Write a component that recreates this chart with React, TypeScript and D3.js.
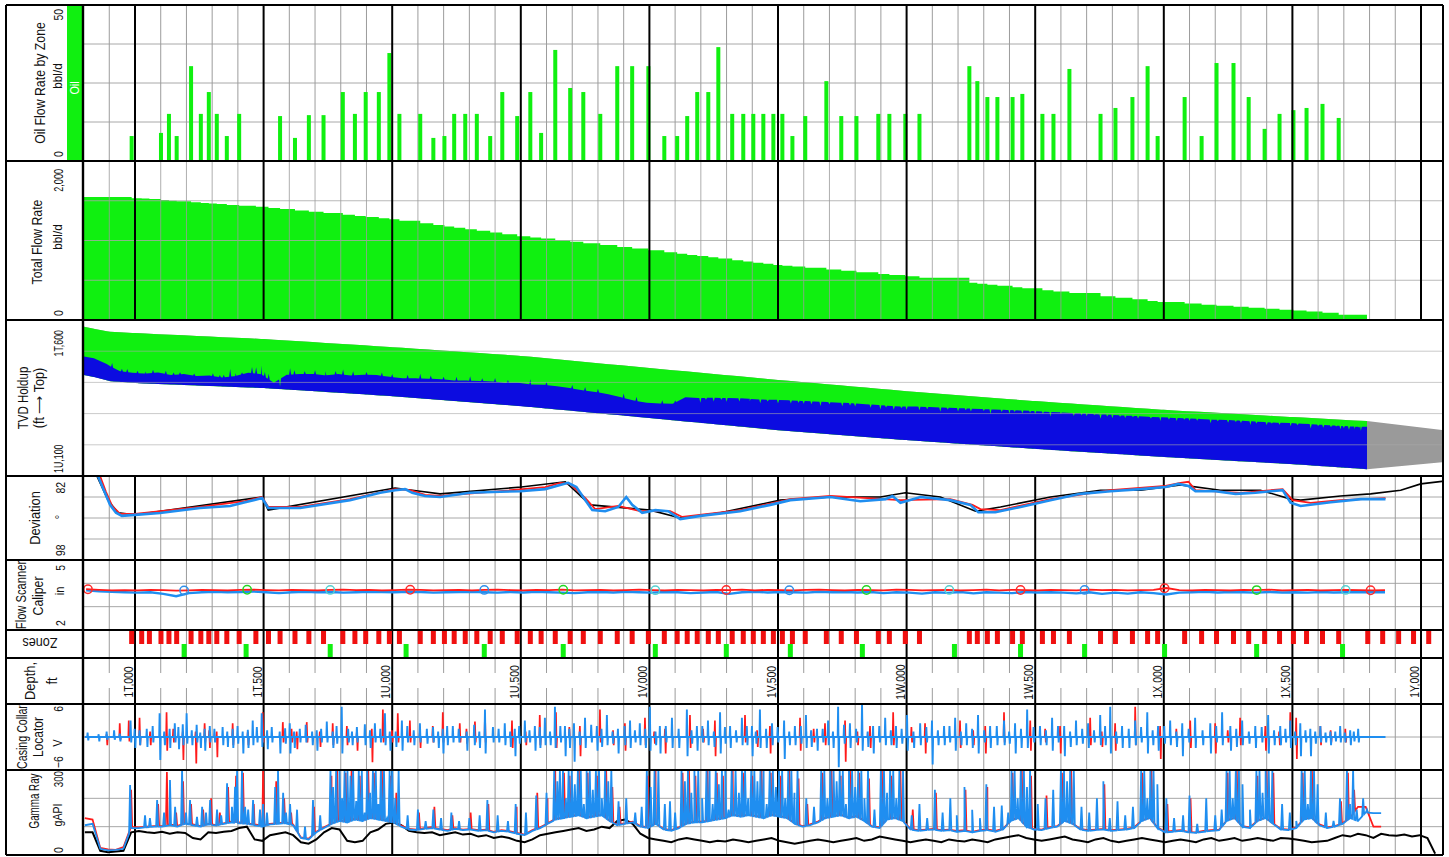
import React from "react";
import * as d3 from "d3";

// ---------------- Depth axis ----------------
const depthTickValues = [0, 500, 1000, 1500, 2000, 2500, 3000, 3500, 4000, 4500, 5000];
const depthTickLabels = ["1T,000", "1T,500", "1U,000", "1U,500", "1V,000", "1V,500", "1W,000", "1W,500", "1X,000", "1X,500", "1Y,000"];

// ---------------- Zones ----------------
const zoneDepths = [-13, 26, 56, 101, 132, 162, 218, 256, 287, 318, 357, 405, 470, 519, 564, 622, 676, 733, 808, 855,
  897, 948, 989, 1028, 1109, 1160, 1203, 1241, 1284, 1329, 1381, 1428, 1486, 1537, 1579, 1634, 1692, 1743, 1809, 1875,
  1933, 1996, 2058, 2108, 2147, 2186, 2229, 2268, 2322, 2365, 2404, 2443, 2482, 2517, 2556, 2606, 2688, 2746, 2805, 2890,
  2933, 2995, 3050, 3244, 3275, 3314, 3353, 3412, 3450, 3528, 3571, 3633, 3754, 3812, 3878, 3937, 3976, 4081, 4147, 4205,
  4271, 4330, 4392, 4450, 4504, 4555, 4617, 4680, 4793, 4851, 4913, 4971, 5030];
const zoneOilRates = [8, 0, 0, 9, 15.1, 8, 30.4, 15.1, 22.1, 15.1, 8, 15.1, 0, 0, 14.4, 7.4, 14.7, 14.7, 22.1, 15.1,
  22.1, 22.1, 34.6, 15.1, 15.1, 7.4, 8, 15.1, 15.1, 15.1, 8, 22.1, 14.4, 22.1, 9, 35.6, 23.4, 22.1, 15.1, 30.4,
  30.4, 30.4, 8, 8, 14.4, 22.1, 22.1, 36.5, 15.1, 15.1, 15.1, 15.1, 15.1, 15.1, 8, 14.4, 25.6, 14.4, 14.4, 15.1,
  15.1, 15.1, 15.1, 30.4, 25.6, 20.5, 20.5, 20.5, 21.5, 15.1, 15.1, 29.5, 15.1, 17, 20.5, 30.4, 8, 20.5, 8, 31.4,
  31.4, 20.5, 10.3, 15.1, 16.3, 17, 18.3, 13.8, 0, 0, 0, 0, 0];
const zoneTotalRates = [1533, 1528, 1521, 1509, 1501, 1494, 1481, 1472, 1465, 1458,
  1448, 1437, 1423, 1410, 1396, 1378, 1362, 1345, 1323, 1309,
  1296, 1280, 1267, 1250, 1216, 1194, 1176, 1160, 1141, 1122,
  1100, 1080, 1055, 1039, 1024, 1004, 984, 966, 943, 919,
  899, 876, 852, 833, 818, 804, 788, 773, 752, 736,
  721, 707, 692, 682, 672, 658, 635, 619, 602, 579,
  567, 551, 530, 467, 457, 444, 431, 412, 400, 374,
  360, 340, 300, 281, 260, 240, 227, 206, 191, 179,
  166, 154, 142, 130, 120, 107, 90, 65];
const flowTopRate = 1547;
const flowStartDepth = -210;
const flowEndDepth = 4790;

const stationDepths = [191, 432, 759, 1054, 1358, 1665, 2023, 2299, 2548, 2828, 3186, 3443, 3692, 4003, 4361, 4695];
const calMarkerDepths = [-183, 191, 436, 759, 1070, 1358, 1665, 2023, 2299, 2544, 2844, 3166, 3443, 3692, 4003, 4361, 4707, 4804];
const calMarkerPass = [0, 1, 2, 3, 0, 1, 2, 3, 0, 1, 2, 3, 0, 1, 0, 2, 3, 0];

// ---------------- TVD / Holdup ----------------
const tvdStations = [-210, -156, -97, 0, 500, 1000, 1500, 2000, 2500, 3000, 3500, 4000, 4500, 4790, 5090];
const tvdTop = [620, 629, 638, 642, 661, 687, 715, 754, 792, 828, 860, 888, 911, 924, 953];
const tvdBottom = [774, 783, 796, 802, 818, 844, 876, 914, 953, 985, 1013, 1039, 1062, 1078, 1055];
const holdupStart = -210;
const holdupStep = 50;
const waterHoldup = [0.38, 0.39, 0.33, 0.22, 0.2, 0.2, 0.23, 0.19, 0.22, 0.19,
  0.21, 0.18, 0.22, 0.3, 0.28, 0.12, 0.3, 0.33, 0.35, 0.34,
  0.38, 0.37, 0.4, 0.41, 0.39, 0.38, 0.4, 0.41, 0.42, 0.41,
  0.43, 0.44, 0.45, 0.44, 0.46, 0.45, 0.47, 0.46, 0.45, 0.43,
  0.42, 0.4, 0.36, 0.32, 0.3, 0.31, 0.33, 0.48, 0.49, 0.52,
  0.54, 0.56, 0.57, 0.58, 0.6, 0.61, 0.62, 0.63, 0.64, 0.65,
  0.66, 0.66, 0.67, 0.67, 0.68, 0.7, 0.71, 0.72, 0.73, 0.74,
  0.75, 0.76, 0.77, 0.78, 0.79, 0.79, 0.8, 0.8, 0.81, 0.81,
  0.82, 0.82, 0.83, 0.83, 0.84, 0.84, 0.85, 0.85, 0.85, 0.86,
  0.86, 0.86, 0.86, 0.86, 0.87, 0.87, 0.87, 0.87, 0.87, 0.87, 0.88];
const holdupSpikes = [[-89, 0.37], [-51, 0.27], [-30, 0.27], [10, 0.25], [40, 0.24], [70, 0.28], [120, 0.27], [150, 0.24],
  [175, 0.25], [230, 0.24], [303, 0.26], [330, 0.23], [345, 0.24], [370, 0.36], [390, 0.28], [416, 0.3], [455, 0.42],
  [471, 0.42], [490, 0.46], [505, 0.33], [520, 0.3], [564, 0.05], [603, 0.44], [620, 0.4], [660, 0.4], [700, 0.43],
  [740, 0.42], [780, 0.44], [809, 0.48], [848, 0.46], [900, 0.46], [960, 0.47], [1000, 0.45], [1060, 0.46],
  [1109, 0.5], [1150, 0.48], [1200, 0.47], [1250, 0.49], [1303, 0.52], [1350, 0.5], [1400, 0.52], [1450, 0.5],
  [1537, 0.55], [1600, 0.53], [1700, 0.52], [1750, 0.5], [1800, 0.49], [1900, 0.44], [1950, 0.4], [2050, 0.38],
  [2100, 0.4], [2198, 0.4], [2220, 0.47], [2250, 0.45], [2280, 0.5], [2300, 0.47], [2350, 0.5], [2390, 0.52],
  [2431, 0.5], [2460, 0.55], [2500, 0.53], [2550, 0.55], [2580, 0.58], [2600, 0.57], [2630, 0.57], [2665, 0.55],
  [2700, 0.6], [2750, 0.58], [2780, 0.61], [2800, 0.6], [2860, 0.6], [2898, 0.58], [2920, 0.63], [2950, 0.6],
  [2980, 0.64], [3000, 0.62], [3050, 0.63], [3080, 0.66], [3131, 0.63], [3160, 0.69], [3200, 0.66], [3230, 0.7],
  [3250, 0.68], [3300, 0.71], [3326, 0.66], [3370, 0.72], [3400, 0.7], [3420, 0.74], [3450, 0.72], [3480, 0.75],
  [3500, 0.73], [3530, 0.74], [3559, 0.7], [3600, 0.77], [3650, 0.74], [3680, 0.77], [3700, 0.76], [3730, 0.79],
  [3754, 0.72], [3780, 0.78], [3800, 0.75], [3830, 0.79], [3850, 0.77], [3880, 0.8], [3900, 0.78], [3950, 0.8],
  [3987, 0.76], [4020, 0.8], [4050, 0.78], [4080, 0.82], [4100, 0.8], [4130, 0.81], [4182, 0.77], [4210, 0.82],
  [4250, 0.8], [4280, 0.83], [4300, 0.81], [4337, 0.78], [4360, 0.82], [4400, 0.8], [4420, 0.84], [4450, 0.82],
  [4493, 0.8], [4520, 0.83], [4571, 0.78], [4600, 0.84], [4620, 0.81], [4650, 0.83], [4670, 0.85], [4687, 0.8],
  [4700, 0.83], [4720, 0.8], [4740, 0.82], [4760, 0.85], [4766, 0.79]];

// ---------------- Deviation ----------------
const devSurvey = [[-170, 78], [-148, 82.0], [-105, 86.6], [-66, 89.0], [0, 89.4], [494, 86.0], [518, 88.5], [1011, 84.3], [1109, 84.9],
  [1186, 85.4], [1502, 84.1], [1673, 83.1], [1770, 87.5], [2003, 88.5], [2120, 90.0], [2276, 89.0], [2509, 86.6],
  [2704, 86.0], [2898, 86.0], [2995, 85.2], [3131, 86.0], [3268, 88.7], [3365, 87.9], [3559, 86.0], [3754, 84.7],
  [3910, 84.7], [4065, 83.7], [4220, 84.7], [4376, 84.7], [4493, 86.4], [4532, 86.6], [4687, 85.8], [4804, 85.4],
  [4921, 84.7], [4999, 83.5], [5086, 83.0]];
const devBlue = [[-170, 78], [-144, 82.0], [-121, 84.7], [-97, 87.5], [-74, 89.0], [-51, 89.6], [0, 89.4], [97, 89.05], [253, 88.1],
  [370, 87.7], [428, 87.0], [494, 86.2], [518, 88.1], [642, 88.1], [836, 86.6], [953, 85.2], [1011, 84.7], [1050, 84.5],
  [1078, 85.2], [1128, 85.8], [1186, 86.0], [1303, 85.2], [1420, 85.0], [1498, 84.9], [1595, 84.5], [1653, 83.7],
  [1684, 83.3], [1716, 84.1], [1751, 86.6], [1778, 88.5], [1828, 88.7], [1879, 87.9], [1910, 86.0], [1933, 87.5],
  [1972, 89.0], [2023, 88.5], [2073, 88.7], [2120, 90.2], [2198, 89.6], [2353, 88.7], [2470, 87.5], [2548, 86.6],
  [2704, 86.0], [2820, 86.8], [2918, 86.4], [2945, 85.8], [2976, 87.1], [3054, 86.0], [3170, 86.6], [3248, 87.5],
  [3279, 88.9], [3345, 88.9], [3443, 87.9], [3559, 86.6], [3676, 85.4], [3793, 84.9], [3910, 84.5], [4007, 84.1],
  [4057, 83.5], [4096, 83.9], [4123, 84.9], [4201, 84.9], [4279, 85.4], [4357, 85.2], [4415, 84.9], [4462, 84.7],
  [4493, 87.1], [4532, 87.7], [4649, 87.0], [4766, 86.4], [4862, 86.4]];
const devRed = [[-160, 78], [-136, 82.0], [-113, 85.0], [-89, 87.7], [-58, 89.2], [0, 89.2], [253, 87.9], [428, 86.8], [494, 86.0],
  [518, 87.9], [642, 87.9], [836, 86.4], [1011, 84.5], [1070, 84.7], [1128, 85.6], [1186, 85.8], [1420, 84.9],
  [1595, 84.1], [1653, 83.3], [1692, 83.5], [1751, 86.2], [1789, 88.3], [1879, 87.7], [1964, 88.7], [2081, 88.7],
  [2128, 89.8], [2353, 88.5], [2548, 86.4], [2704, 85.8], [2976, 86.6], [3170, 86.4], [3256, 87.5], [3287, 88.3],
  [3365, 88.5], [3559, 86.4], [3793, 84.7], [4007, 83.9], [4065, 83.3], [4096, 83.1], [4123, 84.7], [4298, 85.2],
  [4462, 84.5], [4501, 86.6], [4571, 87.1], [4687, 86.6], [4862, 86.2]];

// ---------------- Caliper (in), sampled every 50 ft from -190 ----------------
const caliperStart = -190;
const caliperStep = 50;
const caliperBlue = [3.70, 3.66, 3.64, 3.62, 3.60, 3.62, 3.55, 3.45, 3.58, 3.62,
  3.64, 3.62, 3.63, 3.65, 3.62, 3.58, 3.62, 3.64, 3.62, 3.63,
  3.60, 3.62, 3.64, 3.63, 3.62, 3.64, 3.63, 3.60, 3.62, 3.63,
  3.64, 3.62, 3.60, 3.63, 3.61, 3.64, 3.62, 3.60, 3.58, 3.62,
  3.63, 3.61, 3.64, 3.62, 3.60, 3.63, 3.62, 3.58, 3.61, 3.63,
  3.55, 3.62, 3.64, 3.61, 3.63, 3.62, 3.60, 3.64, 3.62, 3.63,
  3.61, 3.63, 3.58, 3.62, 3.60, 3.56, 3.62, 3.59, 3.63, 3.57,
  3.62, 3.60, 3.58, 3.63, 3.61, 3.62, 3.60, 3.57, 3.62, 3.55,
  3.60, 3.56, 3.62, 3.58, 3.52, 3.60, 3.62, 3.64, 3.61, 3.63,
  3.62, 3.60, 3.63, 3.61, 3.62, 3.60, 3.63, 3.61, 3.62, 3.63, 3.62, 3.62];
const caliperRed = [3.75, 3.72, 3.70, 3.71, 3.70, 3.72, 3.71, 3.69, 3.70, 3.72,
  3.71, 3.70, 3.72, 3.73, 3.71, 3.70, 3.72, 3.71, 3.70, 3.72,
  3.73, 3.71, 3.72, 3.70, 3.71, 3.73, 3.72, 3.70, 3.71, 3.72,
  3.70, 3.72, 3.73, 3.71, 3.70, 3.72, 3.71, 3.73, 3.70, 3.71,
  3.72, 3.70, 3.71, 3.73, 3.71, 3.70, 3.72, 3.71, 3.70, 3.72,
  3.71, 3.73, 3.70, 3.72, 3.71, 3.70, 3.72, 3.73, 3.71, 3.70,
  3.72, 3.71, 3.70, 3.73, 3.72, 3.70, 3.71, 3.72, 3.70, 3.71,
  3.73, 3.70, 3.72, 3.71, 3.70, 3.72, 3.71, 3.70, 3.73, 3.71,
  3.72, 3.70, 3.71, 3.72, 3.80, 3.71, 3.70, 3.72, 3.71, 3.70,
  3.72, 3.71, 3.73, 3.70, 3.71, 3.72, 3.70, 3.71, 3.72, 3.71, 3.70, 3.71];

// ---------------- Casing collar locator: [depth, up V, down V] ----------------
const cclBlueStart = -195;
const cclBlueEnd = 4862;
const cclBlue = [[-183, 0.8, -0.6], [-109, 1.0, -0.5], [-58, 0.6, -0.8], [-16, 3.0, -1.0], [19, 1.2, -1.5], [47, 1.5, -1.8],
  [97, 4.3, -4.2], [136, 1.5, -2.0], [156, 2.5, -1.0], [187, 2.3, -1.5], [202, 4.3, -1.2], [241, 2.2, -1.0],
  [272, 1.5, -2.5], [292, 2.0, -1.0], [342, 1.8, -1.5], [381, 1.5, -2.0], [420, 1.0, -3.0], [459, 3.0, -1.5],
  [494, 4.3, -1.8], [533, 1.8, -1.0], [564, 1.0, -3.0], [603, 2.5, -3.0], [642, 1.5, -1.0], [708, 1.2, -2.5],
  [747, 2.8, -1.0], [805, 5.5, -3.0], [864, 1.8, -1.0], [895, 2.3, -1.5], [934, 2.5, -1.0], [973, 4.3, -1.5],
  [992, 1.0, -2.5], [1039, 3.0, -2.5], [1109, 2.5, -1.0], [1136, 1.5, -1.2], [1198, 1.5, -3.0], [1237, 2.0, -1.0],
  [1291, 1.0, -2.5], [1362, 5.0, -3.0], [1393, 1.8, -1.0], [1439, 2.5, -1.5], [1478, 1.5, -3.5], [1517, 3.0, -1.0],
  [1556, 2.0, -2.5], [1595, 3.5, -1.5], [1634, 5.5, -2.0], [1673, 2.0, -3.5], [1708, 2.5, -4.5], [1751, 3.5, -2.0],
  [1797, 2.0, -2.5], [1836, 4.0, -1.5], [1879, 1.5, -3.0], [1926, 3.0, -2.0], [1964, 2.5, -1.5], [2003, 5.5, -2.5],
  [2042, 2.0, -3.0], [2089, 3.5, -2.0], [2147, 5.0, -3.5], [2186, 2.0, -2.5], [2229, 3.0, -1.5], [2276, 4.5, -3.0],
  [2315, 2.0, -2.0], [2361, 3.5, -1.5], [2400, 2.0, -3.5], [2431, 5.0, -2.0], [2478, 2.5, -1.5], [2525, 3.0, -4.0],
  [2567, 2.0, -1.5], [2610, 4.0, -2.0], [2653, 1.5, -2.5], [2696, 3.0, -1.5], [2735, 5.5, -5.5], [2781, 2.5, -2.0],
  [2828, 6.0, -2.5], [2871, 2.0, -3.0], [2918, 3.5, -1.5], [2960, 2.0, -2.0], [3003, 4.0, -2.5], [3054, 2.5, -1.5],
  [3100, 3.0, -5.0], [3147, 2.0, -1.5], [3190, 3.5, -2.5], [3233, 2.5, -1.5], [3279, 4.0, -3.0], [3326, 2.0, -2.0],
  [3380, 3.0, -1.5], [3423, 2.5, -3.0], [3470, 5.0, -2.0], [3520, 2.0, -1.5], [3567, 3.5, -2.5], [3614, 2.0, -3.5],
  [3660, 3.0, -1.5], [3707, 2.5, -2.0], [3754, 4.0, -1.5], [3793, 5.5, -3.0], [3839, 2.0, -2.0], [3890, 3.0, -1.5],
  [3937, 4.5, -3.0], [3979, 2.0, -2.5], [4026, 3.0, -1.5], [4073, 2.5, -3.5], [4123, 3.5, -2.0], [4182, 2.5, -3.0],
  [4228, 4.5, -1.5], [4260, 2.0, -2.5], [4306, 3.0, -1.5], [4357, 2.0, -2.0], [4407, 4.0, -3.0], [4454, 2.0, -1.5],
  [4493, 3.0, -2.0], [4532, 2.5, -3.5], [4571, 1.5, -3.5], [4610, 2.0, -1.0], [4649, 1.0, -1.5], [4687, 2.0, -1.0],
  [4726, 1.2, -1.5], [4757, 1.5, -1.0]];
const cclBlueMinor = [[-140, 0.5, -0.8], [-80, 1.2, -0.5], [0, 1.5, -2.0], [70, 2.0, -1.0], [115, 1.0, -1.5], [170, 1.8, -2.2],
  [222, 1.2, -1.5], [255, 0.8, -2.0], [310, 1.5, -1.0], [360, 1.0, -1.8], [400, 2.0, -1.2], [440, 1.3, -2.0],
  [475, 1.8, -1.0], [515, 1.2, -2.2], [585, 1.6, -1.2], [620, 1.0, -2.0], [665, 2.2, -1.0], [690, 1.0, -1.5],
  [725, 1.5, -1.0], [770, 1.0, -2.0], [785, 2.0, -1.2], [830, 1.5, -1.0], [845, 1.0, -1.5], [915, 1.2, -2.0],
  [955, 1.5, -1.0], [1015, 1.0, -1.8], [1060, 2.0, -1.0], [1085, 1.2, -1.5], [1160, 1.8, -1.0], [1180, 1.0, -2.0],
  [1215, 2.0, -1.5], [1260, 1.5, -1.0], [1320, 2.2, -1.5], [1340, 1.0, -2.0], [1415, 1.5, -1.0], [1460, 1.0, -1.8],
  [1495, 2.0, -1.2], [1535, 1.2, -1.0], [1575, 1.8, -2.0], [1615, 1.0, -1.5], [1655, 2.0, -1.0], [1690, 1.5, -2.0],
  [1730, 1.0, -1.5], [1775, 2.2, -1.0], [1815, 1.5, -1.8], [1858, 1.0, -1.2], [1905, 2.0, -1.5], [1945, 1.2, -1.0],
  [1985, 1.5, -2.0], [2025, 1.0, -1.5], [2065, 2.0, -1.0], [2115, 1.5, -2.0], [2165, 1.2, -1.2], [2207, 2.0, -1.0],
  [2252, 1.0, -1.8], [2295, 1.8, -1.2], [2338, 1.2, -1.0], [2380, 2.0, -1.5], [2415, 1.0, -1.2], [2455, 1.5, -2.0],
  [2500, 1.8, -1.0], [2545, 1.0, -1.5], [2590, 2.0, -1.2], [2630, 1.2, -1.8], [2675, 1.5, -1.0], [2715, 1.0, -2.0],
  [2758, 2.2, -1.2], [2805, 1.5, -1.0], [2850, 1.0, -1.8], [2895, 2.0, -1.0], [2940, 1.2, -1.5], [2982, 1.5, -1.2],
  [3028, 1.0, -2.0], [3078, 1.8, -1.0], [3123, 1.2, -1.5], [3168, 2.0, -1.0], [3212, 1.0, -1.5], [3256, 1.5, -2.0],
  [3303, 1.2, -1.0], [3352, 2.0, -1.5], [3400, 1.0, -1.2], [3446, 1.5, -2.0], [3495, 1.8, -1.0], [3543, 1.2, -1.5],
  [3590, 2.0, -1.0], [3637, 1.0, -1.8], [3684, 1.5, -1.2], [3730, 1.2, -1.0], [3773, 2.0, -1.5], [3816, 1.0, -1.2],
  [3865, 1.5, -2.0], [3913, 1.8, -1.0], [3958, 1.2, -1.5], [4003, 2.0, -1.2], [4050, 1.0, -1.8], [4098, 1.5, -1.0],
  [4152, 1.2, -1.5], [4205, 2.0, -1.0], [4283, 1.5, -1.8], [4332, 1.0, -1.2], [4382, 1.8, -1.0], [4430, 1.2, -1.5],
  [4474, 1.5, -1.0], [4512, 1.0, -1.5], [4552, 1.2, -1.0], [4590, 1.0, -1.2], [4630, 0.8, -1.0], [4668, 1.0, -0.8],
  [4705, 0.8, -1.0], [4740, 1.0, -0.8]];
const cclRedStart = -195;
const cclRedEnd = 4800;
const cclRed = [[-109, 0.5, -1.5], [-58, 2.5, -0.5], [-23, 3.0, -0.8], [19, 3.5, -1.5], [124, 4.5, -2.5], [187, 1.0, -4.2],
  [237, 1.0, -4.8], [272, 2.5, -1.0], [319, 1.0, -3.7], [381, 2.5, -1.5], [498, 4.5, -1.0], [576, 2.7, -1.0],
  [630, 1.0, -2.2], [669, 2.7, -1.0], [770, 2.5, -1.5], [825, 2.0, -1.5], [864, 1.0, -2.5], [922, 1.5, -4.6],
  [965, 5.0, -1.0], [1023, 4.3, -1.0], [1070, 3.0, -1.0], [1109, 1.0, -2.0], [1159, 2.0, -1.0], [1198, 4.5, -1.0],
  [1264, 2.5, -1.0], [1323, 2.8, -1.0], [1362, 4.3, -1.0], [1467, 3.0, -2.0], [1575, 4.0, -1.5], [1638, 4.5, -2.0],
  [1731, 2.0, -3.5], [1809, 5.0, -1.0], [1906, 2.5, -2.5], [1984, 3.5, -1.5], [2062, 1.5, -3.0], [2159, 4.0, -2.0],
  [2256, 3.0, -3.5], [2373, 4.0, -1.0], [2470, 2.0, -3.0], [2587, 3.5, -2.5], [2684, 2.5, -1.5], [2762, 3.0, -4.5],
  [2859, 2.0, -2.0], [2949, 4.5, -1.5], [3073, 2.5, -3.0], [3209, 3.0, -2.0], [3307, 2.0, -3.0], [3380, 4.5, -1.0],
  [3482, 3.0, -2.5], [3598, 2.0, -3.0], [3715, 3.5, -1.5], [3812, 2.5, -2.5], [3890, 5.5, -1.5], [3987, 2.0, -4.0],
  [4104, 3.0, -2.0], [4201, 2.5, -3.0], [4298, 3.5, -1.5], [4396, 2.0, -2.5], [4493, 4.5, -1.0], [4516, 3.5, -4.0],
  [4610, 2.0, -1.5], [4707, 1.5, -1.0]];
const cclRedMinor = [[60, 1.0, -1.5], [150, 1.5, -1.0], [290, 1.2, -2.0], [440, 1.0, -1.5], [610, 1.5, -1.0], [720, 1.0, -1.8],
  [1000, 1.2, -1.0], [1290, 1.5, -1.2], [1520, 1.0, -1.5], [1690, 1.8, -1.0], [1860, 1.2, -1.5], [2020, 1.0, -1.2],
  [2210, 1.5, -1.0], [2420, 1.2, -1.8], [2640, 1.5, -1.0], [2810, 1.0, -1.5], [3020, 1.8, -1.0], [3260, 1.2, -1.5],
  [3540, 1.5, -1.0], [3760, 1.0, -1.8], [4050, 1.5, -1.2], [4250, 1.2, -1.0], [4450, 1.0, -1.5], [4650, 1.2, -1.0]];

// ---------------- Gamma ray (gAPI): baseline every 30 ft + spikes [depth, peak] ----------------
const grStart = -195;
const grStep = 30;
const grBlueBase = [105, 110, 22, 16, 18, 22, 95, 95, 98, 100,
  100, 105, 100, 110, 105, 100, 108, 104, 110, 115,
  112, 110, 105, 100, 108, 110, 112, 105, 60, 55,
  80, 95, 110, 120, 115, 125, 120, 130, 125, 120,
  115, 100, 90, 88, 92, 95, 90, 85, 92, 88,
  90, 85, 88, 80, 85, 82, 75, 70, 85, 95,
  110, 125, 130, 135, 140, 130, 135, 140, 120, 105,
  110, 115, 100, 95, 110, 90, 85, 95, 110, 115,
  115, 120, 125, 130, 140, 135, 140, 135, 130, 140,
  135, 130, 110, 100, 105, 115, 130, 135, 140, 130,
  135, 120, 100, 95, 125, 130, 120, 90, 85, 88,
  90, 85, 88, 82, 85, 80, 85, 88, 82, 90,
  120, 130, 100, 90, 88, 95, 100, 120, 110, 90,
  85, 88, 90, 85, 88, 90, 95, 120, 130, 95,
  80, 82, 85, 80, 78, 82, 85, 88, 120, 130,
  100, 95, 120, 130, 110, 90, 88, 95, 125, 130,
  105, 95, 100, 110, 130, 120, 150, 148, 148];
const grBlueSpikes = [[-19, 247], [39, 140], [58, 130], [86, 194], [113, 150], [136, 265], [156, 170], [183, 300], [198, 150],
  [214, 194], [241, 135], [261, 170], [276, 150], [292, 194], [319, 160], [335, 140], [358, 253], [377, 170], [389, 241],
  [397, 300], [416, 300], [428, 170], [440, 160], [459, 194], [486, 160], [498, 180], [513, 150], [545, 240], [556, 300],
  [576, 220], [587, 150], [603, 180], [630, 160], [661, 100], [692, 194], [720, 140],
  [760, 300], [770, 240], [782, 300], [795, 300], [805, 200], [815, 300], [826, 300], [838, 280], [848, 300], [860, 190],
  [870, 300], [882, 300], [893, 150], [903, 300], [914, 220], [925, 300], [936, 300], [946, 180], [956, 300], [968, 300],
  [980, 130], [990, 300], [1000, 300], [1012, 200], [1025, 300],
  [1060, 140], [1100, 160], [1130, 120], [1160, 160], [1190, 130], [1230, 150], [1260, 120], [1300, 130], [1340, 140],
  [1370, 194], [1410, 140], [1450, 120], [1480, 180], [1520, 150], [1560, 210], [1600, 220],
  [1630, 300], [1642, 260], [1652, 300], [1664, 300], [1675, 200], [1686, 300], [1698, 300], [1710, 250], [1722, 300],
  [1733, 300], [1745, 180], [1756, 300], [1768, 300], [1780, 230], [1792, 300], [1804, 300], [1815, 200], [1828, 300],
  [1840, 260], [1852, 300], [1880, 190], [1910, 200], [1945, 150], [1970, 170],
  [1990, 300], [2005, 240], [2020, 300], [2035, 300], [2060, 180], [2080, 190], [2100, 150],
  [2125, 300], [2138, 260], [2150, 300], [2163, 220], [2175, 300], [2190, 300], [2205, 200],
  [2222, 300], [2234, 300], [2246, 180], [2258, 300], [2270, 250], [2282, 300], [2295, 300], [2308, 160], [2320, 300],
  [2335, 300], [2348, 220], [2360, 300], [2372, 300], [2384, 200], [2396, 300], [2408, 300], [2420, 260], [2432, 300],
  [2444, 300], [2456, 180], [2468, 300], [2480, 300], [2492, 240], [2504, 300], [2516, 300], [2528, 200], [2540, 300],
  [2552, 300], [2564, 220], [2576, 300], [2610, 200], [2640, 170],
  [2668, 300], [2680, 300], [2692, 200], [2704, 300], [2716, 300], [2728, 260], [2740, 300], [2752, 300], [2764, 180],
  [2776, 300], [2788, 300], [2800, 240], [2812, 300], [2824, 300], [2836, 200], [2850, 300], [2875, 160],
  [2900, 300], [2912, 300], [2924, 220], [2936, 300], [2948, 300], [2960, 200], [2972, 300], [2986, 300],
  [3020, 140], [3050, 180], [3080, 130], [3110, 230], [3140, 150], [3170, 200], [3195, 140], [3225, 240], [3255, 160],
  [3285, 130], [3310, 250], [3340, 170], [3370, 175], [3395, 150],
  [3408, 300], [3420, 300], [3432, 200], [3444, 300], [3456, 300], [3468, 240], [3480, 300],
  [3510, 180], [3540, 200], [3570, 230], [3600, 300], [3612, 300], [3624, 260], [3636, 300], [3650, 300],
  [3680, 170], [3710, 150], [3740, 200], [3765, 260], [3790, 130], [3820, 190], [3850, 140], [3880, 170],
  [3912, 300], [3924, 300], [3936, 200], [3948, 300], [3960, 300], [3975, 250],
  [4010, 200], [4040, 130], [4075, 140], [4100, 210], [4130, 110], [4165, 200], [4200, 140], [4225, 160],
  [4244, 300], [4256, 300], [4268, 200], [4280, 300], [4292, 300], [4306, 250], [4335, 160],
  [4360, 300], [4372, 300], [4384, 220], [4396, 300], [4408, 300], [4422, 300], [4460, 180], [4490, 150], [4515, 120],
  [4536, 300], [4548, 300], [4560, 180], [4572, 300], [4584, 300], [4598, 250], [4630, 150], [4660, 120], [4685, 200],
  [4712, 300], [4724, 180], [4736, 300], [4750, 160], [4775, 200], [4790, 160]];
const grRedBase = [130, 125, 25, 20, 18, 28, 100, 98, 100, 102,
  102, 108, 103, 112, 108, 102, 110, 106, 112, 118,
  115, 112, 108, 104, 110, 112, 115, 108, 62, 58,
  82, 98, 112, 122, 118, 128, 122, 132, 128, 122,
  118, 104, 92, 90, 95, 98, 92, 88, 95, 90,
  92, 88, 90, 82, 88, 84, 78, 72, 88, 98,
  112, 128, 132, 138, 142, 132, 138, 142, 122, 108,
  112, 118, 102, 98, 112, 92, 88, 98, 112, 118,
  118, 122, 128, 132, 142, 138, 142, 138, 132, 142,
  138, 132, 112, 102, 108, 118, 132, 138, 142, 132,
  138, 122, 102, 98, 128, 132, 122, 92, 88, 90,
  92, 88, 90, 85, 88, 82, 88, 90, 85, 92,
  122, 132, 102, 92, 90, 98, 102, 122, 112, 92,
  88, 90, 92, 88, 90, 92, 98, 122, 132, 98,
  82, 85, 88, 82, 80, 85, 88, 90, 122, 132,
  102, 98, 122, 132, 112, 92, 90, 98, 128, 132,
  108, 98, 102, 112, 132, 170, 170, 100, 100];
const grRedSpikes = [[-15, 230], [90, 180], [124, 293], [160, 150], [187, 260], [218, 180], [265, 160], [296, 200], [330, 150],
  [362, 240], [393, 280], [420, 290], [462, 180], [498, 300], [549, 260], [580, 200], [607, 150], [696, 170], [764, 280],
  [786, 300], [819, 290], [842, 300], [874, 280], [907, 300], [929, 290], [960, 300], [994, 280], [1016, 220], [1104, 150],
  [1164, 170], [1234, 140], [1305, 150], [1374, 180], [1484, 170], [1564, 220], [1604, 200], [1634, 300], [1668, 290],
  [1690, 280], [1726, 300], [1760, 290], [1796, 280], [1832, 300], [1856, 240], [1884, 170], [1994, 280], [2024, 300],
  [2129, 290], [2154, 300], [2179, 280], [2226, 300], [2262, 290], [2286, 280], [2324, 300], [2364, 290], [2400, 280],
  [2436, 300], [2472, 290], [2508, 280], [2544, 300], [2580, 270], [2614, 180], [2672, 290], [2708, 300], [2744, 280],
  [2780, 300], [2816, 290], [2854, 270], [2904, 300], [2940, 280], [2976, 300], [3024, 160], [3114, 220], [3229, 230],
  [3314, 240], [3412, 290], [3448, 300], [3484, 280], [3544, 210], [3604, 290], [3640, 300], [3769, 250], [3916, 290],
  [3952, 300], [4014, 180], [4104, 200], [4248, 290], [4284, 300], [4364, 280], [4400, 300], [4426, 290], [4540, 290],
  [4576, 300], [4689, 190], [4716, 290], [4740, 230]];
const grOpenHole = [80, 80, 15, 10, 12, 15, 80, 85, 80, 78,
  82, 75, 80, 78, 60, 55, 80, 78, 82, 85,
  95, 100, 55, 50, 70, 75, 80, 70, 45, 40,
  55, 80, 95, 90, 50, 45, 50, 80, 90, 110,
  115, 105, 85, 80, 78, 80, 70, 75, 80, 72,
  75, 65, 70, 60, 65, 60, 50, 45, 55, 70,
  75, 80, 85, 90, 95, 85, 90, 100, 95, 120,
  125, 110, 75, 60, 55, 50, 45, 55, 60, 55,
  50, 45, 50, 48, 55, 50, 45, 50, 55, 60,
  50, 45, 40, 45, 50, 55, 50, 45, 50, 55,
  60, 50, 55, 65, 60, 55, 50, 45, 50, 55,
  50, 45, 55, 50, 48, 55, 50, 45, 55, 60,
  65, 70, 60, 55, 50, 55, 60, 65, 55, 50,
  45, 55, 60, 50, 45, 50, 55, 60, 55, 50,
  45, 50, 55, 50, 45, 55, 60, 50, 55, 60,
  50, 55, 60, 55, 50, 60, 58, 55, 50, 45,
  48, 50, 60, 70, 65, 75, 70, 60, 75, 70,
  68, 72, 65, 70, 60, 5];

// ---------------- helpers ----------------
const FONT = "'Liberation Sans', Arial, Helvetica, sans-serif";

function interp(xs: number[], ys: number[], v: number) {
  if (v <= xs[0]) return ys[0];
  for (let i = 1; i < xs.length; i++) {
    if (v <= xs[i]) {
      const t = (v - xs[i - 1]) / (xs[i] - xs[i - 1]);
      return ys[i - 1] + t * (ys[i] - ys[i - 1]);
    }
  }
  return ys[ys.length - 1];
}
function sampled(start: number, step: number, vals: number[]) {
  return vals.map((v, i) => [start + i * step, v]);
}
function withSpikes(base: number[][], spikes: number[][], hw: number) {
  const bd = base.map((p) => p[0]);
  const bv = base.map((p) => p[1]);
  const extra = spikes.flatMap(([d, v]) => [[d - hw, interp(bd, bv, d - hw)], [d, v], [d + hw, interp(bd, bv, d + hw)]]);
  return base.concat(extra).sort((a, b) => a[0] - b[0]);
}
function cclPoints(start: number, end: number, spikes: number[][]) {
  const pts: number[][] = [[start, 0]];
  spikes.slice().sort((a, b) => a[0] - b[0]).forEach(([d, up, dn]) => {
    pts.push([d - 3, 0], [d - 1.3, up], [d + 1.3, dn], [d + 3, 0]);
  });
  pts.push([end, 0]);
  return pts;
}

function Lbl({ x, y, t, size = 14, sx = 0.86, anchor = "middle", rot = -90, fill = "#111" }: any) {
  return (
    <text transform={`translate(${x},${y}) rotate(${rot}) scale(${sx},1)`} textAnchor={anchor}
      dominantBaseline="central" fontSize={size} fontFamily={FONT} fill={fill}>{t}</text>
  );
}

export default function App() {
  const W = 1449, H = 857;
  const XL = 6, XT = 83, XR = 1443;
  const R = [5, 161, 320, 476, 560, 630, 658, 704, 770, 855];
  const x = d3.scaleLinear().domain([0, 5000]).range([135, 1421]);
  const yOil = d3.scaleLinear().domain([0, 50]).range([R[1], R[0]]);
  const yFlow = d3.scaleLinear().domain([0, 2000]).range([R[2], R[1]]);
  const yTvd = d3.scaleLinear().domain([600, 1100]).range([R[2], R[3]]);
  const yDev = d3.scaleLinear().domain([82, 98]).range([R[3], R[4]]);
  const yCal = d3.scaleLinear().domain([2, 5]).range([R[5], R[4]]);
  const yCcl = d3.scaleLinear().domain([-6, 6]).range([R[8], R[7]]);
  const yGr = d3.scaleLinear().domain([0, 300]).range([R[9], R[8]]);

  const GREEN = "#10f010";
  const BLUE_TVD = "#0c0ce0";
  const RED = "#ff1a1a";
  const BLUE = "#1f8ef0";
  const passColors = ["#ff2a2a", "#2f8fe8", "#22d822", "#55d0d0"];

  const minorDepths = d3.range(-100, 5001, 100).filter((d) => d % 500 !== 0);

  const flowPts: number[][] = [[flowStartDepth, flowTopRate]];
  zoneTotalRates.forEach((r, i) => flowPts.push([zoneDepths[i], r]));
  flowPts.push([flowEndDepth, zoneTotalRates[zoneTotalRates.length - 1]]);
  const flowArea = d3.area<number[]>().curve(d3.curveStepAfter)
    .x((p) => x(p[0])).y0(R[2]).y1((p) => yFlow(p[1]));

  const topAt = (d: number) => interp(tvdStations, tvdTop, d);
  const botAt = (d: number) => interp(tvdStations, tvdBottom, d);
  const holdBase = sampled(holdupStart, holdupStep, waterHoldup);
  const holdPts = withSpikes(holdBase, holdupSpikes, 4);
  const hbD = holdBase.map((p) => p[0]);
  const bandDepthsAll = Array.from(new Set([...tvdStations, ...hbD])).sort((a, b) => a - b);
  const bandDepthsFlow = bandDepthsAll.filter((d) => d <= flowEndDepth);
  const bandArea = d3.area<number>().x((d) => x(d)).y0((d) => yTvd(botAt(d))).y1((d) => yTvd(topAt(d)));
  const waterArea = d3.area<number[]>().x((p) => x(p[0])).y0((p) => yTvd(botAt(p[0])))
    .y1((p) => { const t = topAt(p[0]), b = botAt(p[0]); return yTvd(b - p[1] * (b - t)); });

  const lineDev = d3.line<number[]>().x((p) => x(p[0])).y((p) => yDev(p[1]));
  const lineCal = d3.line<number[]>().x((p) => x(p[0])).y((p) => yCal(p[1]));
  const lineCcl = d3.line<number[]>().x((p) => x(p[0])).y((p) => yCcl(p[1]));
  const lineGr = d3.line<number[]>().x((p) => x(p[0])).y((p) => yGr(p[1]));

  const calRedPts = sampled(caliperStart, caliperStep, caliperRed);
  const calBluePts = sampled(caliperStart, caliperStep, caliperBlue);
  const calRedD = calRedPts.map((p) => p[0]);
  const calRedV = calRedPts.map((p) => p[1]);

  const grBluePts = withSpikes(sampled(grStart, grStep, grBlueBase), grBlueSpikes, 4);
  const grRedPts = withSpikes(sampled(grStart, grStep, grRedBase), grRedSpikes, 4);
  const grBlackPts = sampled(grStart, grStep, grOpenHole);

  const clipRect = (i: number) => ({ x: XT + 1, y: R[i] + 1, width: XR - XT - 2, height: R[i + 1] - R[i] - 2 });

  const vGrid = (i: number, over = false) => (
    <g key={"vg" + i}>
      {minorDepths.map((d) => (
        <line key={d} x1={x(d)} x2={x(d)} y1={R[i]} y2={R[i + 1]} stroke="#9c9c9c" strokeWidth={1} opacity={over ? 0.8 : 1} />
      ))}
    </g>
  );
  const hGrid = (ys: number[], key: string, op = 1) => (
    <g key={key}>
      {ys.map((yy, k) => (
        <line key={k} x1={XT} x2={XR} y1={yy} y2={yy} stroke="#a8a8a8" strokeWidth={1} opacity={op} />
      ))}
    </g>
  );
  const majors = (i: number) => (
    <g key={"mj" + i}>
      {depthTickValues.map((d) => (
        <line key={d} x1={x(d)} x2={x(d)} y1={R[i]} y2={R[i + 1]} stroke="#000" strokeWidth={2} />
      ))}
    </g>
  );

  return (
    <svg width={W} height={H} style={{ position: "absolute", left: 0, top: 0, background: "#fff" }}>
      <defs>
        {[0, 1, 2, 3, 4, 5, 6, 7, 8].map((i) => (
          <clipPath id={"clip" + i} key={i}><rect {...clipRect(i)} /></clipPath>
        ))}
      </defs>
      <rect x={0} y={0} width={W} height={H} fill="#fff" />

      {/* Track 1: oil flow by zone */}
      {hGrid([12.5, 25, 37.5].map(yOil), "hg1")}
      {vGrid(0)}
      <g clipPath="url(#clip0)">
        {zoneDepths.map((d, i) => zoneOilRates[i] > 0 ? (
          <rect key={i} x={x(d) - 2} width={4} y={yOil(zoneOilRates[i])} height={R[1] - yOil(zoneOilRates[i])} fill={GREEN} />
        ) : null)}
      </g>
      {majors(0)}

      {/* Track 2: total flow */}
      <g clipPath="url(#clip1)">
        <path d={flowArea(flowPts) || ""} fill={GREEN} />
      </g>
      {hGrid([500, 1000, 1500].map(yFlow), "hg2", 0.8)}
      {vGrid(1, true)}
      {majors(1)}

      {/* Track 3: TVD holdup */}
      <g clipPath="url(#clip2)">
        <path d={bandArea(bandDepthsAll) || ""} fill="#9a9a9a" />
        <path d={bandArea(bandDepthsFlow) || ""} fill={GREEN} />
        <path d={waterArea(holdPts) || ""} fill={BLUE_TVD} />
      </g>
      {hGrid([700, 800, 900, 1000].map(yTvd), "hg3", 0.6)}

      {/* Track 4: deviation */}
      {hGrid([86, 90, 94].map(yDev), "hg4")}
      {vGrid(3)}
      {majors(3)}
      <g clipPath="url(#clip3)" fill="none">
        <path d={lineDev(devSurvey) || ""} stroke="#000" strokeWidth={1.6} />
        <path d={lineDev(devRed) || ""} stroke={RED} strokeWidth={1.8} />
        <path d={lineDev(devBlue) || ""} stroke={BLUE} strokeWidth={2.6} />
      </g>

      {/* Track 5: caliper */}
      {hGrid([3, 4].map(yCal), "hg5")}
      {vGrid(4)}
      {majors(4)}
      <g clipPath="url(#clip4)" fill="none">
        <path d={lineCal(calBluePts) || ""} stroke={BLUE} strokeWidth={2.4} />
        <path d={lineCal(calRedPts) || ""} stroke={RED} strokeWidth={1.8} />
        {calMarkerDepths.map((d, i) => (
          <circle key={i} cx={x(d)} cy={yCal(interp(calRedD, calRedV, d))} r={4.2} stroke={passColors[calMarkerPass[i]]} strokeWidth={1.5} fill="none" />
        ))}
      </g>

      {/* Track 6: zones */}
      {vGrid(5)}
      {majors(5)}
      <g clipPath="url(#clip5)">
        {zoneDepths.map((d, i) => (
          <rect key={i} x={x(d) - 2.5} width={5} y={R[5] + 1} height={13} fill="#f01010" />
        ))}
        {stationDepths.map((d, i) => (
          <rect key={"s" + i} x={x(d) - 2.5} width={5} y={R[5] + 14} height={13} fill={GREEN} />
        ))}
      </g>

      {/* Track 7: depth */}
      <g>
        {minorDepths.map((d) => (
          <g key={d}>
            <line x1={x(d)} x2={x(d)} y1={R[6]} y2={R[6] + 15} stroke="#9c9c9c" />
            <line x1={x(d)} x2={x(d)} y1={R[7] - 16} y2={R[7]} stroke="#9c9c9c" />
          </g>
        ))}
        {majors(6)}
        {depthTickValues.map((d, i) => (
          <Lbl key={d} x={x(d) - 7} y={682} t={depthTickLabels[i]} size={13} sx={0.8} />
        ))}
      </g>

      {/* Track 8: CCL */}
      {hGrid([0].map(yCcl), "hg8")}
      {vGrid(7)}
      {majors(7)}
      <g clipPath="url(#clip7)" fill="none">
        <path d={lineCcl(cclPoints(cclRedStart, cclRedEnd, cclRed.concat(cclRedMinor))) || ""} stroke={RED} strokeWidth={1.7} />
        <path d={lineCcl(cclPoints(cclBlueStart, cclBlueEnd, cclBlue.concat(cclBlueMinor))) || ""} stroke={BLUE} strokeWidth={1.9} />
      </g>

      {/* Track 9: gamma ray */}
      {hGrid([100, 200].map(yGr), "hg9")}
      {vGrid(8)}
      {majors(8)}
      <g clipPath="url(#clip8)" fill="none">
        <path d={lineGr(grBlackPts) || ""} stroke="#000" strokeWidth={2} />
        <path d={lineGr(grRedPts) || ""} stroke={RED} strokeWidth={1.7} />
        <path d={lineGr(grBluePts) || ""} stroke={BLUE} strokeWidth={1.8} />
      </g>

      {/* Label column */}
      <rect x={67} y={R[0]} width={15} height={R[1] - R[0]} fill={GREEN} />
      <Lbl x={40} y={83} t="Oil Flow Rate by Zone" sx={0.88} />
      <Lbl x={58} y={76} t="bbl/d" size={13} sx={0.9} />
      <Lbl x={58} y={9} t="50" size={13} sx={0.8} anchor="end" />
      <Lbl x={58} y={157} t="0" size={13} sx={0.8} anchor="start" />
      <Lbl x={74.5} y={88} t="Oil" size={12} sx={0.9} fill="#ffffff" />

      <Lbl x={37} y={242} t="Total Flow Rate" sx={0.88} />
      <Lbl x={58} y={237} t="bbl/d" size={13} sx={0.9} />
      <Lbl x={58} y={169} t="2,000" size={13} sx={0.7} anchor="end" />
      <Lbl x={58} y={316} t="0" size={13} sx={0.8} anchor="start" />

      <Lbl x={23} y={398} t="TVD Holdup" sx={0.82} />
      <Lbl x={39} y={398} t="(ft ⟶ Top)" sx={0.9} />
      <Lbl x={58} y={330} t="1T,600" size={13} sx={0.68} anchor="end" />
      <Lbl x={58} y={473} t="1U,100" size={13} sx={0.68} anchor="start" />

      <Lbl x={35} y={518} t="Deviation" sx={0.92} />
      <Lbl x={60} y={482} t="82" size={13} sx={0.8} anchor="end" />
      <Lbl x={60} y={517} t="°" size={13} sx={0.85} />
      <Lbl x={60} y={556} t="98" size={13} sx={0.8} anchor="start" />

      <Lbl x={22} y={595} t="Flow Scanner" sx={0.8} />
      <Lbl x={38} y={596} t="Caliper" sx={0.88} />
      <Lbl x={60} y={565} t="5" size={13} sx={0.8} anchor="end" />
      <Lbl x={60} y={591} t="in" size={13} sx={0.85} />
      <Lbl x={60} y={626} t="2" size={13} sx={0.8} anchor="start" />

      <Lbl x={40} y={643} t="Zones" rot={180} sx={0.9} />

      <Lbl x={30} y={681} t="Depth," sx={0.92} />
      <Lbl x={52} y={681} t="ft" sx={0.92} />

      <Lbl x={22} y={737} t="Casing Collar" sx={0.76} />
      <Lbl x={38} y={737} t="Locator" sx={0.86} />
      <Lbl x={58} y={706} t="6" size={13} sx={0.8} anchor="end" />
      <Lbl x={58} y={743} t="V" size={13} sx={0.85} />
      <Lbl x={58} y={768} t="−6" size={13} sx={0.8} anchor="start" />

      <Lbl x={34} y={801} t="Gamma Ray" sx={0.7} />
      <Lbl x={58} y={771} t="300" size={13} sx={0.75} anchor="end" />
      <Lbl x={58} y={815} t="gAPI" size={13} sx={0.82} />
      <Lbl x={58} y={853} t="0" size={13} sx={0.8} anchor="start" />

      {/* Frame */}
      {R.map((yy, i) => (
        <line key={"row" + i} x1={XL} x2={XR} y1={yy} y2={yy} stroke="#000" strokeWidth={2.2} />
      ))}
      <line x1={XL} x2={XL} y1={R[0]} y2={R[9]} stroke="#000" strokeWidth={2} />
      <line x1={XT} x2={XT} y1={R[0]} y2={R[9]} stroke="#000" strokeWidth={2.4} />
      <line x1={XR} x2={XR} y1={R[0]} y2={R[9]} stroke="#000" strokeWidth={2} />
    </svg>
  );
}
